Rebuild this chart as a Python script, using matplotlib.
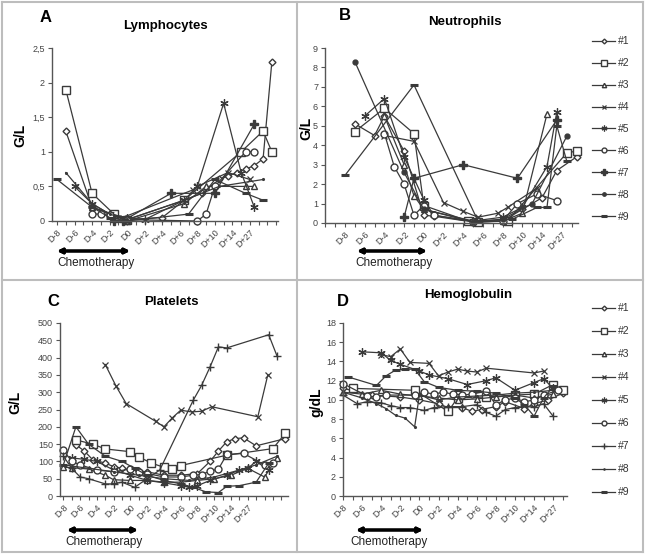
import numpy as np
import matplotlib.pyplot as plt
from matplotlib.lines import Line2D

plt.rcParams['font.family'] = ['Liberation Sans', 'DejaVu Sans']

W, H = 646, 555

days = ["D-8", "D-6", "D-4", "D-2", "D0", "D+2", "D+4", "D+6", "D+8", "D+10", "D+14", "D+27"]
patients = ["#1", "#2", "#3", "#4", "#5", "#6", "#7", "#8", "#9"]

# x = slot on the category axis (D-8 = 0, one label every 2 slots), y = value
lym_x = [
    [1, 4, 6, 8, 12, 14.5, 16.5, 18.5, 19.5, 20.5, 21.5, 22.5, 23.5, 24.5],
    [1, 4, 6.5, 8, 14.5, 21, 23.5, 24.5],
    [4, 6, 8, 14.5, 17, 21.5, 22.5],
    [4, 7.5, 15.5, 16, 19.5, 22],
    [2, 4, 6, 8, 10, 14.5, 16, 19, 21, 22.5],
    [4, 5, 6, 8, 16, 17, 18, 21.5, 22.5],
    [6.5, 7.5, 13, 18, 22.5],
    [1, 4, 6, 8, 14.5, 18.5, 23.5],
    [0, 4, 6, 8, 15, 18, 21.5, 23.5],
]
lym_y = [
    [1.3, 0.2, 0.1, 0.02, 0.05, 0.3, 0.4, 0.6, 0.65, 0.7, 0.75, 0.8, 0.9, 2.3],
    [1.9, 0.4, 0.1, 0.02, 0.3, 1.0, 1.3, 1.0],
    [0.2, 0.1, 0.0, 0.25, 0.5, 0.5, 0.5],
    [0.2, 0.05, 0.45, 0.5, 0.7, 0.6],
    [0.5, 0.25, 0.1, 0.05, 0.02, 0.3, 0.5, 1.7, 0.7, 0.2],
    [0.1, 0.1, 0.08, 0.02, 0.0, 0.1, 0.5, 1.0, 1.0],
    [0.0, 0.0, 0.4, 0.4, 1.4],
    [0.7, 0.25, 0.1, 0.02, 0.3, 0.5, 0.6],
    [0.6, 0.2, 0.05, 0.0, 0.1, 0.6, 0.4, 0.3],
]

neu_x = [
    [1, 3, 4, 6, 8, 9, 13, 16, 18, 20, 21.5, 23.5],
    [1, 4, 7, 8, 12.5, 13.5, 16.5, 22.5, 23.5],
    [4, 6, 7, 8, 13, 16, 18, 20.5],
    [4, 7, 10, 12, 13.5, 15.5, 16.5, 19.5],
    [2, 4, 6, 8, 9, 13, 16, 18, 20.5, 21.5],
    [4, 5, 6, 7, 8, 9, 13, 16, 17.5, 19.5, 21.5],
    [6, 7, 12, 17.5, 21.5],
    [1, 6, 8, 13, 16, 19, 22.5],
    [0, 7, 13.5, 17, 19.5, 20.5, 21.5, 22.5],
]
neu_y = [
    [5.1, 4.5, 5.5, 3.7, 0.4, 0.35, 0.05, 0.1, 0.7, 1.3, 2.7, 3.4],
    [4.7, 5.9, 4.6, 0.9, 0.1, 0.05, 0.1, 3.6, 3.7],
    [5.5, 3.0, 1.4, 0.7, 0.1, 0.1, 0.5, 5.6],
    [4.5, 4.2, 1.05, 0.6, 0.3, 0.5, 0.8, 1.8],
    [5.5, 6.4, 3.4, 1.2, 0.4, 0.1, 0.3, 0.8, 2.9, 5.7],
    [4.6, 2.9, 2.0, 0.4, 0.9, 0.4, 0.05, 0.1, 1.0, 1.5, 1.15],
    [0.3, 2.3, 3.0, 2.3, 5.3],
    [8.3, 2.6, 0.7, 0.05, 0.2, 1.0, 4.45],
    [2.45, 7.1, 0.1, 0.2, 0.8, 0.8, 5.0, 3.2],
]

plt_x = [
    [1.5, 2.5, 3.5, 5, 6, 7, 9, 10, 12, 14, 16, 17.5, 18.5, 19.5, 20.5, 21.5, 23, 26.5],
    [1.5, 3.5, 5, 8, 9, 10.5, 12, 13, 14, 19.5, 25, 26.5],
    [0, 1, 3, 5, 6, 8, 10, 12, 14, 16, 18, 20, 22, 24, 25.5],
    [5, 6.3, 7.5, 11, 12, 13, 14, 15.3, 16.5, 17.7, 23.2, 24.4],
    [1, 2.5, 4, 6, 8, 10, 12, 14, 15, 16, 17.5, 19.5, 21, 22, 23, 24.5],
    [0, 1, 2, 4, 6, 8, 9, 10, 12, 14, 15.5, 16.5, 17.5, 18.5, 19.5, 21.5, 24, 25],
    [0, 1, 2, 3, 5, 6, 7, 8.5, 11.5, 15.5, 16.5, 17.5, 18.5, 19.5, 24.5, 25.5],
    [0, 3, 6, 9, 12, 15, 18, 21, 23, 25.5],
    [0, 1.5, 3, 5, 7, 8.5, 10, 12, 14, 15.5, 17, 18.5, 19.5, 21, 23, 24.5],
]
plt_y = [
    [148, 130, 105, 95, 85, 80, 72, 70, 60, 60, 65, 100, 130, 157, 166, 168, 145, 166],
    [162, 150, 136, 128, 113, 95, 83, 78, 88, 118, 137, 182],
    [83, 82, 78, 60, 47, 45, 45, 40, 40, 45, 50, 60, 80, 55, 110],
    [380, 317, 267, 216, 200, 226, 248, 243, 245, 258, 229, 351],
    [110, 106, 100, 75, 60, 45, 38, 30, 25, 30, 45, 60, 75, 80, 100, 75],
    [133, 100, 90, 75, 70, 78, 70, 65, 55, 55, 60, 62, 72, 78, 120, 123, 90, 95],
    [115, 80, 55, 50, 35, 35, 40, 25, 75, 277, 320, 373, 431, 428, 466, 404],
    [90, 80, 70, 60, 50, 45, 55, 75, 90, 115],
    [90, 200, 150, 115, 100, 80, 60, 45, 35, 25, 12, 10, 28, 30, 40, 95],
]

hb_x = [
    [0, 3, 6, 8, 10, 11, 12.5, 13.5, 14.5, 16, 17, 19, 20, 21.5, 23],
    [1, 7.5, 11, 12, 15, 18, 20, 22, 23],
    [0, 2, 4, 6, 8, 10, 12, 14, 16, 18, 20, 22],
    [4, 5, 6, 7, 9, 10, 11, 12, 13, 14, 15, 20, 21],
    [2, 4, 5, 6, 8, 9, 11, 13, 15, 16, 18, 20, 21, 22],
    [0, 2.5, 3.5, 4.5, 7.5, 8.5, 9.5, 10.5, 11.5, 12.5, 13.5, 15, 16, 17, 18, 19, 20, 21, 22.5],
    [0, 1.5, 2.5, 4, 5, 6, 7, 8.5, 9.5, 11, 12.5, 14, 15, 16, 17, 18, 20, 21, 22],
    [0, 2, 3.5, 4.5, 5.5, 6.5, 7.5, 8, 10, 12, 14, 16, 18, 20, 22],
    [0.5, 3.5, 4.5, 5.5, 6.5, 7.5, 8.5, 10, 12, 14, 16, 18, 19, 20, 21, 22],
]
hb_y = [
    [11.2, 10.5, 10.3, 10.0, 9.6, 9.2, 9.2, 8.8, 9.0, 9.3, 9.8, 9.1, 9.6, 10.0, 10.7],
    [11.2, 11.0, 8.8, 10.2, 10.3, 10.5, 10.6, 11.6, 11.0],
    [10.8, 10.6, 11.0, 10.6, 10.4, 10.2, 10.0, 10.1, 10.3, 10.5, 10.2, 10.6],
    [14.7, 14.5, 15.3, 13.9, 13.8, 12.5, 12.9, 13.2, 13.0, 12.9, 13.3, 12.8, 13.0],
    [15.0, 14.9, 14.1, 13.7, 13.0, 12.6, 12.2, 11.6, 12.0, 12.3, 11.0, 11.8, 12.2, 11.2],
    [11.7, 10.4, 10.3, 10.5, 10.5, 10.8, 10.6, 10.8, 10.6, 10.5, 10.6, 10.9, 9.5, 10.0, 10.2, 9.8, 10.0, 10.5, 11.0],
    [10.5, 9.6, 9.8, 9.7, 9.4, 9.2, 9.2, 8.9, 9.2, 9.3, 9.3, 9.5, 8.7, 8.3, 9.0, 9.2, 9.3, 9.6, 8.3],
    [10.8, 10.2, 9.6, 9.1, 8.4, 8.1, 7.2, 10.5, 10.0, 10.3, 10.4, 10.5, 10.7, 10.8, 11.0],
    [12.4, 11.5, 12.5, 13.1, 13.2, 13.2, 11.9, 11.3, 11.0, 10.9, 10.7, 10.2, 9.5, 8.3, 10.2, 11.4],
]

LC = '#3a3a3a'
base_style = [
    dict(marker='D', ms=3.5, mfc='white'),
    dict(marker='s', ms=5.5, mfc='white'),
    dict(marker='^', ms=4.5, mfc='white'),
    dict(marker='x', ms=5, mew=0.9),
    dict(marker=(6, 2, 0), ms=6, mew=0.9),
    dict(marker='o', ms=5, mfc='white'),
    dict(marker='+', ms=6, mew=1.0),
    dict(marker='.', ms=2.5),
    dict(marker='_', ms=6, mew=2.2),
]


def style_for(panel, i):
    st = dict(base_style[i])
    if panel in ('A', 'B') and i == 6:
        st = dict(marker='P', ms=5.5, mfc=LC)
    if panel == 'B' and i == 7:
        st = dict(marker='o', ms=3.5, mfc=LC)
    return st


def fpos(x, y):
    return x / W, 1 - y / H


fig = plt.figure(figsize=(W / 100, H / 100), dpi=100)


def panel(box, xs, ys, xlim, ylim, yticks, ylabels, name, letter, ylab, pos):
    l, t, r, b = box
    ax = fig.add_axes([l / W, 1 - b / H, (r - l) / W, (b - t) / H])
    for i in range(len(xs)):
        ax.plot(xs[i], ys[i], color=LC, lw=0.9, mec=LC, clip_on=False, **style_for(letter, i))
    ax.set_xlim(*xlim)
    ax.set_ylim(*ylim)
    ax.set_yticks(yticks)
    ax.set_yticklabels(ylabels, fontsize=6.5, color='#444')
    ax.set_xticks(np.arange(0, 2 * len(days), 2))
    ax.set_xticklabels(days, rotation=45, ha='right', va='top', rotation_mode='anchor',
                       fontsize=6.5, color='#444')
    ax.set_xticks(np.arange(np.ceil(xlim[0]), xlim[1], 1), minor=True)
    ax.tick_params(axis='both', which='both', direction='out', length=3, width=0.8,
                   color='#555', pad=2)
    for s in ['top', 'right']:
        ax.spines[s].set_visible(False)
    for s in ['left', 'bottom']:
        ax.spines[s].set_color('#555')
        ax.spines[s].set_linewidth(1.0)
    fig.text(*fpos(*pos['letter']), letter, fontsize=12, fontweight='bold', ha='center', va='center')
    fig.text(*fpos(*pos['title']), name, fontsize=9.5, fontweight='bold', ha='center', va='center')
    fig.text(*fpos(*pos['ylab']), ylab, fontsize=10, fontweight='bold', ha='center', va='center',
             rotation=90)
    a0, a1, ay = pos['arrow']
    fig.add_artist(plt.annotate('', xy=fpos(a0, ay), xytext=fpos(a1, ay), xycoords='figure fraction',
                                arrowprops=dict(arrowstyle='<|-|>', color='black', lw=2.2,
                                                mutation_scale=7, shrinkA=0, shrinkB=0)))
    fig.text(*fpos(*pos['chemo']), 'Chemotherapy', fontsize=8.5, ha='left', va='center', color='#222')
    return ax


axA = panel((52, 48, 278, 221), lym_x, lym_y, (-0.57, 25.2), (0, 2.5),
            [0, 0.5, 1, 1.5, 2, 2.5], ['0', '0,5', '1', '1,5', '2', '2,5'],
            'Lymphocytes', 'A', 'G/L',
            dict(letter=(46, 17), title=(165, 26), ylab=(20, 135), arrow=(57, 130, 251), chemo=(57, 263)))
axB = panel((325, 48, 578, 223), neu_x, neu_y, (-2.03, 23.65), (0, 9),
            list(range(10)), [str(v) for v in range(10)],
            'Neutrophils', 'B', 'G/L',
            dict(letter=(345, 15), title=(465, 22), ylab=(306, 128), arrow=(357, 427, 251), chemo=(355, 263)))
axC = panel((60, 323, 288, 496), plt_x, plt_y, (-0.4, 26.8), (0, 500),
            list(range(0, 501, 50)), [str(v) for v in range(0, 501, 50)],
            'Platelets', 'C', 'G/L',
            dict(letter=(53, 302), title=(171, 302), ylab=(15, 402), arrow=(67, 138, 530), chemo=(65, 542)))
axD = panel((343, 323, 567, 496), hb_x, hb_y, (0, 23.45), (0, 18),
            list(range(0, 19, 2)), [str(v) for v in range(0, 19, 2)],
            'Hemoglobulin', 'D', 'g/dL',
            dict(letter=(343, 302), title=(468, 295), ylab=(316, 402), arrow=(356, 423, 530), chemo=(350, 542)))

# legends
for letter, top, sp in (('B', 31, 1.15), ('D', 298, 1.25)):
    handles = [Line2D([], [], color=LC, lw=0.9, mec=LC, **style_for(letter, i)) for i in range(9)]
    fig.legend(handles, patients, loc='upper left', bbox_to_anchor=fpos(587, top),
               bbox_transform=fig.transFigure, frameon=False, fontsize=7.5, labelspacing=sp,
               handlelength=2.2, handletextpad=0.3, borderpad=0, markerscale=0.7,
               labelcolor='#333')

# panel frames
fc = '#bdbdbd'
for (x0, y0, x1, y1) in [(2, 2, 643, 2), (2, 552, 643, 552), (2, 2, 2, 552), (643, 2, 643, 552),
                         (297, 2, 297, 552), (2, 280, 643, 280)]:
    fig.add_artist(Line2D([x0 / W, x1 / W], [1 - y0 / H, 1 - y1 / H], color=fc, lw=1.5,
                          transform=fig.transFigure))

fig.savefig('out.png', dpi=100)
